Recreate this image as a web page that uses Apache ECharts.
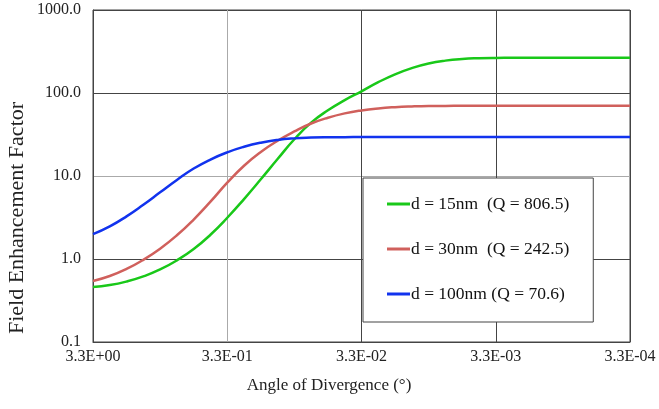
<!DOCTYPE html>
<html>
<head>
<meta charset="utf-8">
<script src="https://cdn.jsdelivr.net/npm/echarts@6/dist/echarts.min.js"></script>
<style>
  html, body { margin: 0; padding: 0; background: #fff; }
  #main { width: 659px; height: 409px; }
</style>
</head>
<body>
<div id="main"></div>
<script>
// angle of divergence (deg)
var angles = [3.3, 2.475, 1.856, 1.392, 1.044, 0.7827, 0.5868, 0.4401, 0.33,
  0.2475, 0.1856, 0.1392, 0.1044, 0.07827, 0.05868, 0.04401, 0.033,
  0.02475, 0.01856, 0.01392, 0.01044, 0.00783, 0.00587, 0.0044, 0.0033,
  0.002475, 0.001856, 0.001044, 0.000587, 0.00033];
var d15 = [0.460, 0.485, 0.535, 0.617, 0.748, 0.964, 1.32, 1.96, 3.14,
  5.27, 9.12, 16.0, 27.7, 43.9, 61.9, 82.0, 104.7,
  135, 168, 199.5, 226.5, 245.5, 257, 262.4, 264.8,
  265.5, 265.5, 265.5, 265.5, 265.5];
var d30 = [0.543, 0.624, 0.759, 0.977, 1.33, 1.93, 2.99, 4.90, 8.30,
  13.3, 19.5, 26.6, 34.4, 42.9, 50.4, 56.8, 61.7,
  65.2, 67.5, 68.9, 69.7, 69.9, 70, 70, 70,
  70, 70, 70, 70, 70];
var d100 = [1.99, 2.47, 3.26, 4.50, 6.35, 8.97, 12.3, 15.8, 19.3,
  22.5, 25.2, 27.2, 28.4, 29.0, 29.3, 29.4, 29.5,
  29.6, 29.6, 29.6, 29.6, 29.6, 29.6, 29.6, 29.6,
  29.6, 29.6, 29.6, 29.6, 29.6];
var names = ['d = 15nm  (Q = 806.5)', 'd = 30nm  (Q = 242.5)', 'd = 100nm (Q = 70.6)'];
var colors = ['#19c819', '#d0605c', '#1133ee'];
var xTicks = ['3.3E+00', '3.3E-01', '3.3E-02', '3.3E-03', '3.3E-04'];
var yTicks = ['0.1', '1.0', '10.0', '100.0', '1000.0'];

var serif = 'Liberation Serif';

// x is plotted as decades below 3.3 deg
function pts(vals) {
  return angles.map(function (a, i) {
    return [Math.round(Math.log10(a / 3.3) * 1e6) / 1e6, vals[i]];
  });
}

var myChart = echarts.init(document.getElementById('main'));
var option = {
  animation: false,
  grid: { left: 93, right: 29, top: 10, bottom: 67, show: true, borderColor: '#444', borderWidth: 1 },
  xAxis: {
    type: 'value', inverse: true, min: -4, max: 0, interval: 1,
    axisLine: { lineStyle: { color: '#444', width: 1 } },
    axisTick: { show: false },
    axisLabel: {
      color: '#222', fontFamily: serif, fontSize: 16, margin: 7,
      formatter: function (v) { return xTicks[Math.round(-v)]; }
    },
    splitLine: { lineStyle: { color: ['#444', '#444', '#444', '#aaa', '#444'], width: 1 } }
  },
  yAxis: {
    type: 'log', logBase: 10, min: 0.1, max: 1000,
    axisLine: { show: true, lineStyle: { color: '#444', width: 1 } },
    axisTick: { show: false },
    axisLabel: {
      color: '#222', fontFamily: serif, fontSize: 16, margin: 12,
      formatter: function (v) { return yTicks[Math.round(Math.log10(v)) + 1]; }
    },
    splitLine: { lineStyle: { color: ['#444', '#444', '#aaa', '#444', '#444'], width: 1 } }
  },
  legend: {
    orient: 'vertical', left: 363, top: 178,
    padding: [17, 24, 19, 24],
    itemWidth: 23, itemHeight: 3, itemGap: 27,
    backgroundColor: '#fff', borderColor: '#444', borderWidth: 1,
    icon: 'rect',
    textStyle: { fontFamily: serif, fontSize: 17.5, color: '#111', padding: [0, 0, 0, -4], lineHeight: 16 },
    data: names
  },
  graphic: [
    {
      type: 'text', x: 17, y: 218, rotation: Math.PI / 2,
      style: { text: 'Field Enhancement Factor', font: '22px "Liberation Serif"', fill: '#222',
        textAlign: 'center', textVerticalAlign: 'middle' }
    },
    {
      type: 'text', x: 329, y: 386,
      style: { text: 'Angle of Divergence (°)', font: '17px "Liberation Serif"', fill: '#222',
        textAlign: 'center', textVerticalAlign: 'middle' }
    }
  ],
  series: [d15, d30, d100].map(function (vals, i) {
    return {
      name: names[i], type: 'line', smooth: 0.5, showSymbol: false,
      lineStyle: { color: colors[i], width: 2.5 }, itemStyle: { color: colors[i] },
      data: pts(vals)
    };
  })
};
myChart.setOption(option);
</script>
</body>
</html>
